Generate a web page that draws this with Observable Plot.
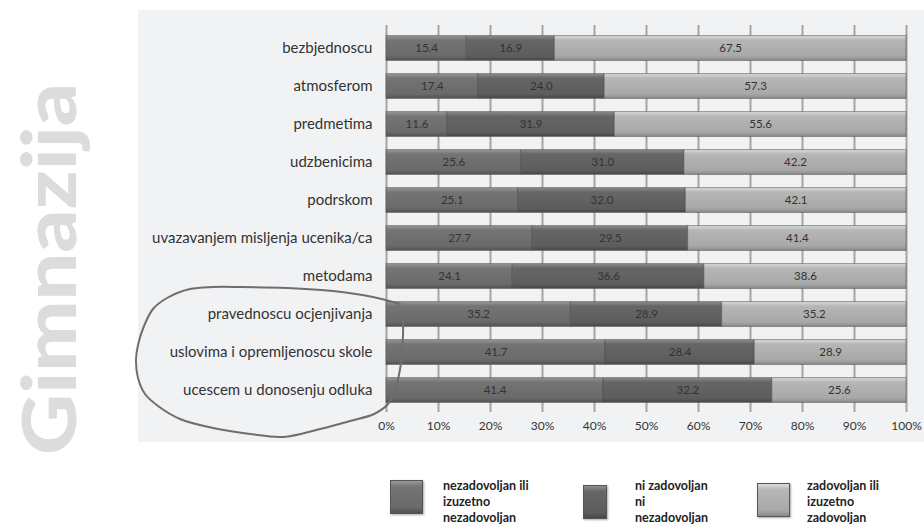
<!DOCTYPE html>
<html>
<head>
<meta charset="utf-8">
<script src="https://cdn.jsdelivr.net/npm/d3@7"></script>
<script src="https://cdn.jsdelivr.net/npm/@observablehq/plot@0.6"></script>
<style>
  html, body { margin: 0; padding: 0; background: #ffffff; }
  #page { position: relative; width: 924px; height: 532px; overflow: hidden; font-family: Lato, "Open Sans", sans-serif; }
  #panel { position: absolute; left: 138px; top: 10px; width: 786px; height: 432px; background: #f1f2f4; }
  #panel svg { display: block; }
  #panel g[aria-label^="y-axis"] text { font-size: 15px; fill: #333; }
  #panel g[aria-label^="x-axis"] text { font-size: 12px; fill: #333; }
  .overlay { position: absolute; left: 0; top: 0; pointer-events: none; }
  .swatch { position: absolute; height: 34px; box-sizing: border-box; border: 1px solid #555; box-shadow: 1px 1px 2px rgba(0,0,0,0.35); }
  .legend-text { position: absolute; font-weight: 700; font-size: 12.5px; line-height: 16px; color: #222; }
</style>
</head>
<body>
<div id="page">
  <svg class="overlay" id="mark" width="924" height="532"></svg>
  <div id="panel"></div>
  <div id="legend"></div>
  <svg class="overlay" id="scribble" width="924" height="532"></svg>
</div>
<script>
// Satisfaction items (top to bottom)
const categories = [
  "bezbjednoscu",
  "atmosferom",
  "predmetima",
  "udzbenicima",
  "podrskom",
  "uvazavanjem misljenja ucenika/ca",
  "metodama",
  "pravednoscu ocjenjivanja",
  "uslovima i opremljenoscu skole",
  "ucescem u donosenju odluka"
];

// Response groups
const series = [
  "nezadovoljan ili izuzetno nezadovoljan",
  "ni zadovoljan ni nezadovoljan",
  "zadovoljan ili izuzetno zadovoljan"
];

// Percentages per group, one value per item
const nezadovoljan = [15.4, 17.4, 11.6, 25.6, 25.1, 27.7, 24.1, 35.2, 41.7, 41.4];
const neutralno    = [16.9, 24.0, 31.9, 31.0, 32.0, 29.5, 36.6, 28.9, 28.4, 32.2];
const zadovoljan   = [67.5, 57.3, 55.6, 42.2, 42.1, 41.4, 38.6, 35.2, 28.9, 25.6];

// Axis ticks
const xTicks = [0, 0.1, 0.2, 0.3, 0.4, 0.5, 0.6, 0.7, 0.8, 0.9, 1];

const title = "Gimnazija";

// Long table for the stacked bars
const groups = [nezadovoljan, neutralno, zadovoljan];
const rows = categories.flatMap((c, i) =>
  series.map((s, j) => ({category: c, series: s, value: groups[j][i]}))
);

// Bevelled fills for each group
const fills = [
  {id: "bar-g0", stops: ["#9a9a9a", "#747474", "#6a6a6a", "#525252"]},
  {id: "bar-g1", stops: ["#8e8e8e", "#666666", "#5d5d5d", "#484848"]},
  {id: "bar-g2", stops: ["#dedede", "#b6b6b6", "#a8a8a8", "#8a8a8a"]}
];

const chart = Plot.plot({
  width: 786,
  height: 432,
  marginLeft: 248,
  marginRight: 18,
  marginTop: 15,
  marginBottom: 30,
  style: {background: "transparent", fontFamily: "Lato, 'Open Sans', sans-serif", color: "#333"},
  x: {domain: [0, 1], ticks: xTicks, tickFormat: d3.format(".0%"), tickSize: 0, tickPadding: 9, label: null},
  y: {domain: categories, padding: 0, tickSize: 0, tickPadding: 14, label: null},
  color: {domain: series, range: fills.map(f => `url(#${f.id})`)},
  marks: [
    Plot.ruleX(xTicks, {stroke: "#a4a4a4", strokeWidth: 2}),
    Plot.barX(rows, Plot.stackX({
      x: "value", y: "category", fill: "series", offset: "normalize",
      insetTop: 6.6, insetBottom: 6.6,
      stroke: "#4a4a4a", strokeOpacity: 0.55, strokeWidth: 1
    })),
    Plot.text(rows, Plot.stackX({
      x: "value", y: "category", offset: "normalize",
      text: d => d.value.toFixed(1),
      fill: "#333", fontSize: 11.5
    }))
  ]
});

// gradient definitions used by the bar fills
const defs = d3.select(chart).insert("defs", ":first-child");
fills.forEach(f => {
  const g = defs.append("linearGradient").attr("id", f.id).attr("x1", 0).attr("y1", 0).attr("x2", 0).attr("y2", 1);
  [0, 0.18, 0.82, 1].forEach((o, k) => g.append("stop").attr("offset", o).attr("stop-color", f.stops[k]));
});

document.getElementById("panel").appendChild(chart);

// Legend below the chart
const legendBox = [
  {sx: 390, sw: 33, sy: 480, tx: 443, tw: 100, ty: 478},
  {sx: 583, sw: 24, sy: 485, tx: 635, tw: 80, ty: 478},
  {sx: 757, sw: 33, sy: 483, tx: 807, tw: 92, ty: 478}
];
const legend = d3.select("#legend");
series.forEach((s, i) => {
  const b = legendBox[i], st = fills[i].stops;
  legend.append("div").attr("class", "swatch")
    .style("left", b.sx + "px").style("top", b.sy + "px").style("width", b.sw + "px")
    .style("background", `linear-gradient(to bottom, ${st[0]}, ${st[1]} 18%, ${st[2]} 82%, ${st[3]})`);
  legend.append("div").attr("class", "legend-text")
    .style("left", b.tx + "px").style("top", b.ty + "px").style("width", b.tw + "px")
    .text(s);
});

// Large vertical school-type heading on the left
d3.select("#mark").append("text")
  .attr("transform", "translate(76,455) rotate(-90)")
  .attr("textLength", 372)
  .attr("lengthAdjust", "spacingAndGlyphs")
  .attr("font-family", "Lato, sans-serif")
  .attr("font-weight", 900)
  .attr("font-size", 75)
  .attr("fill", "#dcdcdc")
  .text(title);

// Hand-drawn loop around the three lowest-rated items
const loop = [
  [400, 304], [373, 297], [333, 291], [287, 288], [240, 287], [213, 287], [190, 289],
  [167, 298], [153, 309], [144, 326], [138, 345], [136, 360], [138, 378], [145, 394],
  [158, 406], [180, 419], [213, 428], [250, 434], [283, 437], [320, 429], [350, 421],
  [374, 414], [388, 404], [395, 390], [401, 363], [403, 335], [403, 320]
];
d3.select("#scribble").append("path")
  .attr("d", d3.line().curve(d3.curveCatmullRom)(loop))
  .attr("fill", "none")
  .attr("stroke", "#6e6e6e")
  .attr("stroke-width", 2)
  .attr("stroke-linecap", "round");
</script>
</body>
</html>
